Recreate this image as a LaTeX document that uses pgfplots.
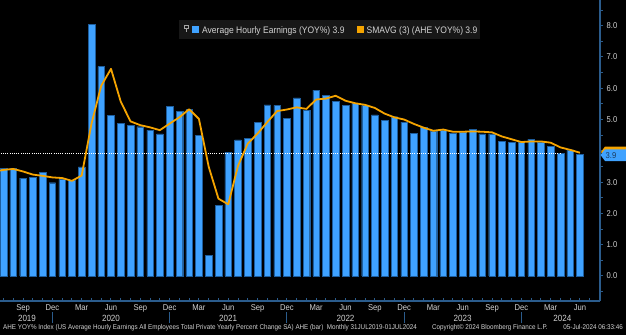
\documentclass[border=0pt]{standalone}
\usepackage{fontspec}
\setmainfont{Liberation Sans}[FakeStretch=0.9]
\usepackage{pgfplots}
\pgfplotsset{compat=1.18}
\usetikzlibrary{backgrounds}
\definecolor{bbblue}{HTML}{3FA2FF}
\definecolor{bbedge}{HTML}{1E5E9E}
\definecolor{bborange}{HTML}{F5A400}
\definecolor{axblue}{HTML}{2B5C8C}
\definecolor{lbl}{HTML}{D2D2D2}
\definecolor{legbg}{HTML}{171717}
\definecolor{tagtxt}{HTML}{1B3A5C}
\begin{document}
\begin{tikzpicture}[x=1bp,y=1bp]
\begin{axis}[
  scale only axis,
  width=600bp, height=301bp,
  xmin=-0.36, xmax=61.05, ymin=-0.8, ymax=8.82,
  axis x line=bottom, axis y line=right,
  axis line style={-, draw=axblue, line width=1.3bp},
  clip mode=individual,
  tick align=outside,
  major tick length=3bp, minor tick length=3bp,
  xtick={2,5,...,59},
  xticklabels={Sep,Dec,Mar,Jun,Sep,Dec,Mar,Jun,Sep,Dec,Mar,Jun,Sep,Dec,Mar,Jun,Sep,Dec,Mar,Jun},
  minor xtick={0,...,60},
  ytick={0,...,8},
  yticklabels={0.0,1.0,2.0,3.0,,5.0,6.0,7.0,8.0},
  minor ytick={-0.5,0.5,...,8.5},
  tick style={draw=axblue, line width=1bp},
  xtick style={yshift=3bp},
  xticklabel style={font=\fontsize{8.5}{9}\selectfont, text=lbl, anchor=base, yshift=-6bp},
  yticklabel style={font=\fontsize{8.5}{9}\selectfont, text=lbl, anchor=west, inner sep=0pt, xshift=3.5bp},
]
\coordinate (A0) at (axis cs:-0.36,-0.8);
\addplot[ybar, bar width=0.68, fill=bbblue, draw=bbedge, line width=0.4bp] coordinates {
(0,3.45) (1,3.43) (2,3.13) (3,3.15) (4,3.32) (5,2.98) (6,3.09) (7,3.05) (8,3.49) (9,8.05)
(10,6.69) (11,5.13) (12,4.88) (13,4.81) (14,4.77) (15,4.66) (16,4.54) (17,5.41) (18,5.26) (19,5.32)
(20,4.49) (21,0.66) (22,2.26) (23,3.96) (24,4.35) (25,4.39) (26,4.90) (27,5.47) (28,5.45) (29,5.03)
(30,5.69) (31,5.30) (32,5.94) (33,5.77) (34,5.58) (35,5.45) (36,5.52) (37,5.45) (38,5.15) (39,4.98)
(40,5.09) (41,4.92) (42,4.56) (43,4.75) (44,4.62) (45,4.66) (46,4.56) (47,4.60) (48,4.69) (49,4.54)
(50,4.54) (51,4.30) (52,4.28) (53,4.26) (54,4.37) (55,4.26) (56,4.15) (57,3.92) (58,4.03) (59,3.88)
};
\addplot[white, line width=1.1bp, dash pattern=on 1bp off 1.2bp] coordinates {(-0.5,3.9) (57.0,3.9)};
\addplot[bborange, line width=1.8bp, line join=round] coordinates {
(-1,3.33) (0,3.39) (1,3.42) (2,3.34) (3,3.24) (4,3.20) (5,3.15) (6,3.13) (7,3.04) (8,3.21) (9,4.86)
(10,6.08) (11,6.62) (12,5.57) (13,4.94) (14,4.82) (15,4.75) (16,4.66) (17,4.87) (18,5.07) (19,5.33)
(20,5.02) (21,3.49) (22,2.47) (23,2.29) (24,3.52) (25,4.23) (26,4.55) (27,4.92) (28,5.27) (29,5.32)
(30,5.39) (31,5.34) (32,5.64) (33,5.67) (34,5.76) (35,5.60) (36,5.52) (37,5.47) (38,5.37) (39,5.19)
(40,5.07) (41,5.00) (42,4.86) (43,4.74) (44,4.64) (45,4.68) (46,4.61) (47,4.61) (48,4.62) (49,4.61)
(50,4.59) (51,4.46) (52,4.37) (53,4.28) (54,4.30) (55,4.30) (56,4.26) (57,4.11) (58,4.03) (59,3.94)
};
\end{axis}
\begin{scope}[shift={(A0)}, yshift=-34bp]
\begin{scope}[on background layer]
\fill[black] (0,0) rectangle (626,335);
\end{scope}
% year separators
\foreach \xx in {52.4,169.6,286.9,404.1,521.4} {
  \draw[axblue, line width=1bp] (\xx,23) -- (\xx,12);
}
% year labels
\foreach \xx/\yy in {27/2019,111.0/2020,228.2/2021,345.5/2022,462.7/2023,562.4/2024} {
  \node[anchor=base, inner sep=0pt, text=lbl, font=\fontsize{9}{10}\selectfont] at (\xx,14) {\yy};
}
% footer
\node[anchor=base west, inner sep=0pt, text=lbl, font=\fontsize{7}{8}\selectfont] at (3,5.3)
  {AHE YOY\% Index (US Average Hourly Earnings All Employees Total Private Yearly Percent Change SA) AHE (bar)\enspace Monthly 31JUL2019-01JUL2024};
\node[anchor=base west, inner sep=0pt, text=lbl, font=\fontsize{7}{8}\selectfont] at (432,5.3)
  {Copyright© 2024 Bloomberg Finance L.P.};
\node[anchor=base east, inner sep=0pt, text=lbl, font=\fontsize{7}{8}\selectfont] at (623,5.3)
  {05-Jul-2024 06:33:46};
% legend
\fill[legbg] (179,296) rectangle (480,315);
\draw[gray!70, line width=0.6bp] (184.2,306.3) rectangle (188.6,309.8);
\draw[gray!70, line width=0.6bp] (186.4,306.3) -- (186.4,302.8);
\fill[bbblue] (191.5,302) rectangle (198.5,309.5);
\node[anchor=base west, inner sep=0pt, text=lbl, font=\fontsize{9.5}{10}\selectfont] at (202,302)
  {Average Hourly Earnings (YOY\%) 3.9};
\fill[bborange] (356.5,302) rectangle (363.5,309.5);
\node[anchor=base west, inner sep=0pt, text=lbl, font=\fontsize{9.5}{10}\selectfont] at (366.5,302)
  {SMAVG (3) (AHE YOY\%) 3.9};
% right tags
\fill[bborange] (601,183) -- (605,188.5) -- (626,188.5) -- (626,177) -- (605,177) -- cycle;
\fill[bbblue] (600.5,180) -- (605,185.7) -- (626,185.7) -- (626,174) -- (605,174) -- cycle;
\node[anchor=west, inner sep=0pt, text=tagtxt, font=\fontsize{8.5}{9}\selectfont] at (605.5,179.8) {3.9};
\end{scope}
\pgfresetboundingbox
\path[use as bounding box, shift={(A0)}, yshift=-34bp] (0,0) rectangle (626,335);
\end{tikzpicture}
\end{document}
